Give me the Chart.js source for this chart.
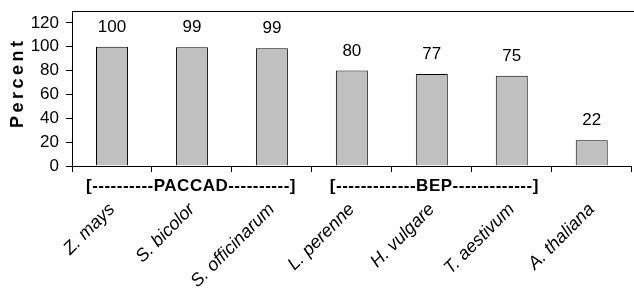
<!DOCTYPE html>
<html>
<head>
<meta charset="utf-8">
<script src="https://cdn.jsdelivr.net/npm/chart.js@4.4.1/dist/chart.umd.min.js"></script>
<style>
  html, body { margin: 0; padding: 0; background: #fff; overflow: hidden; }
  #wrap { width: 634px; height: 290px; }
</style>
</head>
<body>
<div id="wrap"><canvas id="myChart" width="634" height="290"></canvas></div>
<script>
// species along the x axis
const species = ['Z. mays', 'S. bicolor', 'S. officinarum', 'L. perenne', 'H. vulgare', 'T. aestivum', 'A. thaliana'];
// percent values
const percent = [100, 99.6, 98.8, 80, 77.2, 75.6, 21.6];
// labels printed above bars
const barLabels = ['100', '99', '99', '80', '77', '75', '22'];
// y ticks
const yTicks = [0, 20, 40, 60, 80, 100, 120];
// clade brackets under the axis, first category of each
const groupLabels = ['[----------PACCAD----------]', '[-------------BEP-------------]'];
const groupFirst = [0, 3];

const convas = document.getElementById('myChart');
const ctx = convas.getContext('2d');

const FONT = '"Liberation Sans", Arial, sans-serif';

// frame line along the top of the plot
const topLine = {
  id: 'topLine',
  afterDraw(chart) {
    const c = chart.ctx, a = chart.chartArea;
    c.save();
    c.strokeStyle = '#000';
    c.lineWidth = 1;
    c.beginPath();
    c.moveTo(a.left, Math.round(a.top) + 0.5);
    c.lineTo(chart.width, Math.round(a.top) + 0.5);
    c.stroke();
    c.restore();
  }
};

// numbers above bars
const valueText = {
  id: 'valueText',
  afterDatasetsDraw(chart) {
    const c = chart.ctx;
    const meta = chart.getDatasetMeta(0);
    c.save();
    c.fillStyle = '#000';
    c.font = '17px ' + FONT;
    c.textAlign = 'center';
    c.textBaseline = 'alphabetic';
    meta.data.forEach((bar, i) => {
      c.fillText(barLabels[i], bar.x, bar.y - 15);
    });
    c.restore();
  }
};

// PACCAD / BEP brackets and the y title
const extraText = {
  id: 'extraText',
  afterDraw(chart) {
    const c = chart.ctx, a = chart.chartArea;
    const xs = chart.scales.x;
    c.save();
    c.fillStyle = '#000';
    c.font = 'bold 17px ' + FONT;
    c.letterSpacing = '0.5px';
    c.textAlign = 'left';
    c.textBaseline = 'alphabetic';
    groupLabels.forEach((t, i) => {
      const x = xs.getPixelForValue(groupFirst[i]) - (i === 0 ? 26 : 22);
      c.fillText(t, x, a.bottom + 25);
    });
    // y title
    c.font = 'bold 18px ' + FONT;
    c.letterSpacing = '3.5px';
    c.textAlign = 'center';
    c.textBaseline = 'middle';
    c.translate(18, (a.top + a.bottom) / 2 - 4);
    c.rotate(-Math.PI / 2);
    c.fillText('Percent', 1.75, 0);
    c.restore();
  }
};

new Chart(ctx, {
  type: 'bar',
  data: {
    labels: species,
    datasets: [{
      data: percent,
      backgroundColor: '#c0c0c0',
      borderColor: '#000',
      borderWidth: 1,
      barPercentage: 0.4,
      categoryPercentage: 1
    }]
  },
  options: {
    responsive: false,
    animation: false,
    devicePixelRatio: 1,
    layout: { padding: { top: 11, right: 0, left: 0, bottom: 0 } },
    plugins: {
      legend: { display: false },
      tooltip: { enabled: false }
    },
    scales: {
      x: {
        grid: { drawOnChartArea: false, color: '#000', tickLength: 6, offset: true },
        border: { color: '#000', width: 1 },
        ticks: {
          color: '#000',
          font: { family: FONT, size: 18, style: 'italic' },
          minRotation: 45,
          maxRotation: 45,
          padding: 27,
          autoSkip: false
        },
        afterFit: s => { s.height = 124; }
      },
      y: {
        min: 0,
        max: 130,
        grid: { drawOnChartArea: false, color: '#000', tickLength: 6 },
        border: { color: '#000', width: 1 },
        ticks: {
          color: '#000',
          font: { family: FONT, size: 17 },
          padding: 7,
          stepSize: 20
        },
        afterBuildTicks: s => { s.ticks = yTicks.map(v => ({ value: v })); },
        afterFit: s => { s.width = 72; s.paddingTop = 0; s.paddingBottom = 0; }
      }
    }
  },
  plugins: [topLine, valueText, extraText]
});
</script>
</body>
</html>
